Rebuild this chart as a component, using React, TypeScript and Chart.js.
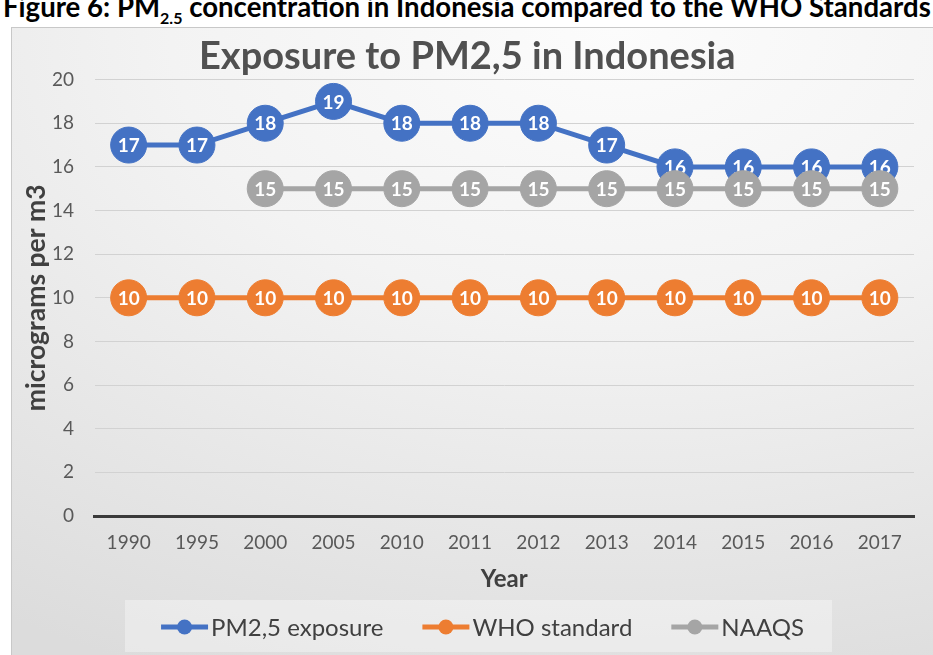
import React, { useEffect, useRef } from "react";
import { Chart, registerables } from "chart.js";

Chart.register(...registerables);

const years = ["1990", "1995", "2000", "2005", "2010", "2011", "2012", "2013", "2014", "2015", "2016", "2017"];
const pmExposure = [17, 17, 18, 19, 18, 18, 18, 17, 16, 16, 16, 16];
const whoStandard = [10, 10, 10, 10, 10, 10, 10, 10, 10, 10, 10, 10];
const naaqs = [null, null, 15, 15, 15, 15, 15, 15, 15, 15, 15, 15];
const seriesNames = ["PM2,5 exposure", "WHO standard", "NAAQS"];
const seriesColors = ["#4472C4", "#ED7D31", "#A5A5A5"];
const yMin = 0;
const yMax = 20;
const yStep = 2;
const chartTitle = "Exposure to PM2,5 in Indonesia";
const xTitle = "Year";
const yTitle = "micrograms per m3";

const FONT = "Lato";

const dataLabels = {
  id: "dataLabels",
  afterDatasetDraw(chart: any, args: any) {
    const { ctx } = chart;
    const ds = chart.data.datasets[args.index];
    ctx.save();
    ctx.font = `bold 19px ${FONT}`;
    ctx.fillStyle = "#ffffff";
    ctx.textAlign = "center";
    ctx.textBaseline = "middle";
    args.meta.data.forEach((pt: any, i: number) => {
      const v = ds.data[i];
      if (v === null || v === undefined || pt.skip) return;
      ctx.fillText(String(v), pt.x, pt.y + 1);
    });
    ctx.restore();
  },
};

const legendBox = {
  id: "legendBox",
  afterDraw(chart: any) {
    const { ctx } = chart;
    const datasets = chart.data.datasets;
    ctx.save();
    ctx.fillStyle = "rgba(255,255,255,0.35)";
    ctx.fillRect(125, 600, 707, 52);
    ctx.font = `24px ${FONT}`;
    const markerW = 47;
    const gapText = 3;
    const gapItem = 39;
    const widths = datasets.map((d: any) => ctx.measureText(d.label).width);
    const n = datasets.length;
    const total = widths.reduce((a: number, b: number) => a + b, 0) + n * (markerW + gapText) + (n - 1) * gapItem;
    let x = 482.5 - total / 2;
    const y = 627;
    datasets.forEach((d: any, i: number) => {
      ctx.strokeStyle = d.borderColor;
      ctx.lineWidth = 5;
      ctx.beginPath();
      ctx.moveTo(x, y);
      ctx.lineTo(x + markerW, y);
      ctx.stroke();
      ctx.fillStyle = d.borderColor;
      ctx.beginPath();
      ctx.arc(x + markerW / 2, y, 7.5, 0, Math.PI * 2);
      ctx.fill();
      ctx.fillStyle = "#404040";
      ctx.textAlign = "left";
      ctx.textBaseline = "middle";
      ctx.fillText(d.label, x + markerW + gapText, y + 1);
      x += markerW + gapText + widths[i] + gapItem;
    });
    ctx.restore();
  },
};

function makeDataset(label: string, data: (number | null)[], color: string, order: number) {
  return {
    label,
    data,
    order,
    borderColor: color,
    backgroundColor: color,
    borderWidth: 5,
    pointRadius: 18,
    pointHoverRadius: 18,
    pointBackgroundColor: color,
    pointBorderColor: color,
    pointBorderWidth: 1,
    tension: 0,
    spanGaps: false,
  };
}

export default function App() {
  const ref = useRef<HTMLCanvasElement | null>(null);

  useEffect(() => {
    if (!ref.current) return;
    const chart = new Chart(ref.current, {
      type: "line",
      data: {
        labels: years,
        datasets: [
          makeDataset(seriesNames[0], pmExposure, seriesColors[0], 2),
          makeDataset(seriesNames[1], whoStandard, seriesColors[1], 1),
          makeDataset(seriesNames[2], naaqs, seriesColors[2], 0),
        ],
      },
      options: {
        responsive: false,
        animation: false,
        events: [],
        layout: { padding: { left: 12, top: 28, right: 10.5, bottom: 57 } },
        plugins: {
          legend: { display: false },
          tooltip: { enabled: false },
          title: {
            display: true,
            text: chartTitle,
            color: "#505050",
            font: { family: FONT, size: 38, weight: "bold" },
            padding: { top: 6, bottom: 0 },
          },
        },
        scales: {
          x: {
            offset: true,
            grid: { display: false, drawTicks: false },
            border: { display: true, color: "#3a3a3a", width: 3 },
            ticks: {
              color: "#595959",
              font: { family: FONT, size: 19 },
              padding: 15,
              maxRotation: 0,
              autoSkip: false,
            },
            title: {
              display: true,
              text: xTitle,
              color: "#404040",
              font: { family: FONT, size: 24, weight: "bold" },
              padding: { top: 0, bottom: 4.6 },
            },
            afterFit: (s: any) => {
              s.height = 82;
            },
          },
          y: {
            min: yMin,
            max: yMax,
            ticks: {
              stepSize: yStep,
              color: "#595959",
              font: { family: FONT, size: 19 },
              padding: 20.5,
            },
            grid: {
              drawTicks: false,
              color: (c: any) => (c.tick && c.tick.value === 0 ? "rgba(0,0,0,0)" : "#d2d2d2"),
              lineWidth: 1,
            },
            border: { display: false },
            title: {
              display: true,
              text: yTitle,
              color: "#404040",
              font: { family: FONT, size: 26.5, weight: "bold" },
              padding: { top: 9, bottom: 0 },
            },
            afterFit: (s: any) => {
              s.width = 82.5;
            },
          },
        },
      },
      plugins: [dataLabels, legendBox],
    } as any);
    return () => chart.destroy();
  }, []);

  return (
    <div
      style={{
        position: "fixed",
        left: 0,
        top: 0,
        width: 933,
        height: 655,
        overflow: "hidden",
        background: "#ffffff",
      }}
    >
      <div
        style={{
          position: "absolute",
          left: 3,
          top: -7.5,
          whiteSpace: "nowrap",
          fontFamily: FONT,
          fontWeight: 700,
          fontSize: 27.6,
          lineHeight: "27.6px",
          color: "#000",
        }}
      >
        Figure 6: PM<sub style={{ fontSize: 16, lineHeight: 0 }}>2.5</sub> concentration in Indonesia compared to the WHO Standards
      </div>
      <div
        style={{
          position: "absolute",
          left: 11,
          top: 27,
          width: 930,
          height: 640,
          border: "1px solid #c8c8c8",
          background:
            "radial-gradient(ellipse 120% 110% at 65% 0%, #fcfcfc 0%, #f3f3f3 40%, #dcdcdc 100%)",
        }}
      />
      <canvas
        ref={ref}
        width={933}
        height={655}
        style={{ position: "absolute", left: 0, top: 0, display: "block" }}
      />
    </div>
  );
}
